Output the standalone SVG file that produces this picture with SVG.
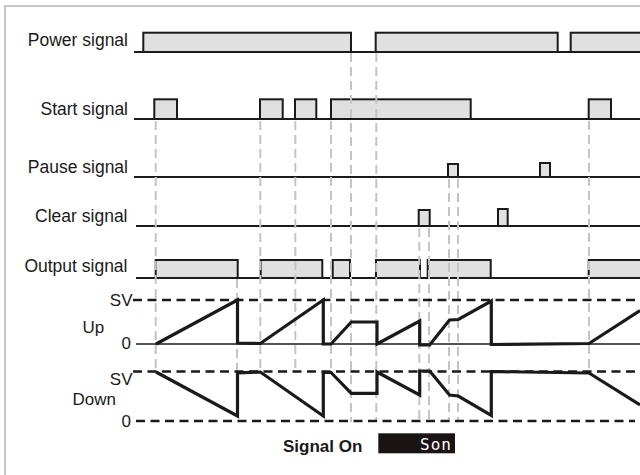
<svg xmlns="http://www.w3.org/2000/svg" width="640" height="475" viewBox="0 0 640 475">
<style>
.lbl{font-family:"Liberation Sans",Arial,sans-serif;font-size:17.5px;fill:#1a1a1a}
.ax{font-family:"Liberation Sans",Arial,sans-serif;font-size:17px;fill:#1a1a1a}
.base{stroke:#1a1a1a;stroke-width:2;fill:none}
.pulse{fill:#e0e0e0;stroke:#1a1a1a;stroke-width:2}
.guide{stroke:#c4c4c4;stroke-width:2;stroke-dasharray:9 5;fill:none}
.lvl{stroke:#1a1a1a;stroke-width:2.5;stroke-dasharray:9 5.5;fill:none}
.wave{stroke:#1a1a1a;stroke-width:3.2;fill:none;stroke-linejoin:miter}
</style>
<rect x="5" y="6" width="700" height="520" fill="#ffffff" stroke="#c8c8c8" stroke-width="2"/>

<g id="power-signal">
<text class="lbl" x="128" y="46" text-anchor="end">Power signal</text>
<rect class="pulse" x="143.3" y="32.7" width="207.7" height="19.3"/>
<rect class="pulse" x="375.7" y="32.7" width="182" height="19.3"/>
<rect class="pulse" x="570.7" y="32.7" width="80" height="19.3"/>
<line class="base" x1="134" y1="52" x2="640" y2="52"/>
</g>

<g id="start-signal">
<text class="lbl" x="128" y="115" text-anchor="end">Start signal</text>
<rect class="pulse" x="154.3" y="99.3" width="22.7" height="19.7"/>
<rect class="pulse" x="260" y="99.3" width="22.7" height="19.7"/>
<rect class="pulse" x="295" y="99.3" width="21.3" height="19.7"/>
<rect class="pulse" x="331" y="99.3" width="139.7" height="19.7"/>
<rect class="pulse" x="588.7" y="99.3" width="22.3" height="19.7"/>
<line class="base" x1="134" y1="119" x2="640" y2="119"/>
</g>

<g id="pause-signal">
<text class="lbl" x="128" y="173" text-anchor="end">Pause signal</text>
<rect class="pulse" x="448" y="164" width="10" height="13"/>
<rect class="pulse" x="540" y="163" width="10" height="14"/>
<line class="base" x1="134" y1="177" x2="640" y2="177"/>
</g>

<g id="clear-signal">
<text class="lbl" x="127.5" y="221.5" text-anchor="end">Clear signal</text>
<rect class="pulse" x="418.7" y="210" width="11" height="16"/>
<rect class="pulse" x="498" y="209" width="9.7" height="17"/>
<line class="base" x1="136" y1="226" x2="640" y2="226"/>
</g>

<g id="output-signal">
<text class="lbl" x="127.5" y="272" text-anchor="end">Output signal</text>
<rect class="pulse" x="155.7" y="260" width="82" height="18"/>
<rect class="pulse" x="260.7" y="260" width="61.6" height="18"/>
<rect class="pulse" x="332.7" y="260" width="17.3" height="18"/>
<rect class="pulse" x="376" y="260" width="44" height="18"/>
<rect class="pulse" x="427.7" y="260" width="63" height="18"/>
<rect class="pulse" x="588.7" y="260" width="60" height="18"/>
<line class="base" x1="136" y1="278" x2="640" y2="278"/>
</g>

<g id="connectors">
<line class="guide" x1="155.7" y1="121" x2="155.7" y2="370"/>
<line class="guide" x1="237" y1="279" x2="237" y2="372"/>
<line class="guide" x1="260.3" y1="121" x2="260.3" y2="372"/>
<line class="guide" x1="295.3" y1="121" x2="295.3" y2="370"/>
<line class="guide" x1="331" y1="121" x2="331" y2="372"/>
<line class="guide" x1="351" y1="53" x2="351" y2="422"/>
<line class="guide" x1="376.3" y1="53" x2="376.3" y2="422"/>
<line class="guide" x1="419.3" y1="228" x2="419.3" y2="421"/>
<line class="guide" x1="429" y1="228" x2="429" y2="421"/>
<line class="guide" x1="449" y1="179" x2="449" y2="422"/>
<line class="guide" x1="458" y1="179" x2="458" y2="422"/>
<line class="guide" x1="589" y1="121" x2="589" y2="372"/>
</g>

<g id="up-counter">
<text class="ax" x="132.5" y="306" text-anchor="end">SV</text>
<text class="ax" x="82.5" y="333.3">Up</text>
<text class="ax" x="131" y="349.3" text-anchor="end">0</text>
<line class="lvl" x1="133" y1="300" x2="635" y2="300"/>
<line stroke="#1a1a1a" stroke-width="1.6" x1="136" y1="344" x2="640" y2="344"/>
<polyline class="wave" points="156,344 237.5,300 237.5,343 260.3,343.5 323.3,300 323.3,344 331,344 351.3,322 377,322 377,344 419.7,321 419.7,345 429.7,345 449.5,320 458.3,319.5 491.3,301 491.3,344.5 589,343.5 640,310.5"/>
</g>

<g id="down-counter">
<text class="ax" x="132.5" y="384.5" text-anchor="end">SV</text>
<text class="ax" x="72.5" y="405">Down</text>
<text class="ax" x="131" y="426.5" text-anchor="end">0</text>
<line class="lvl" x1="133" y1="371.5" x2="635" y2="371.5"/>
<line class="lvl" x1="136" y1="421" x2="635" y2="421"/>
<polyline class="wave" points="156,372 237.5,416 237.5,373 260.3,372 323.3,416 323.3,372.5 331,372.5 351.3,393.3 377,393.3 377,372 419.7,395 419.7,371 429.7,371 449.5,395 458.3,396 491.3,415.5 491.3,371.5 589,373 640,405"/>
</g>

<g id="signal-on">
<text x="283" y="452" font-family="'Liberation Sans',Arial,sans-serif" font-size="17" font-weight="bold" fill="#1a1a1a">Signal On</text>
<rect x="378.3" y="433.3" width="76.7" height="20" fill="#1a1414"/>
<text x="452" y="450" text-anchor="end" font-family="'DejaVu Sans Mono',monospace" font-size="16" fill="#ffffff" letter-spacing="1">Son</text>
</g>
</svg>
